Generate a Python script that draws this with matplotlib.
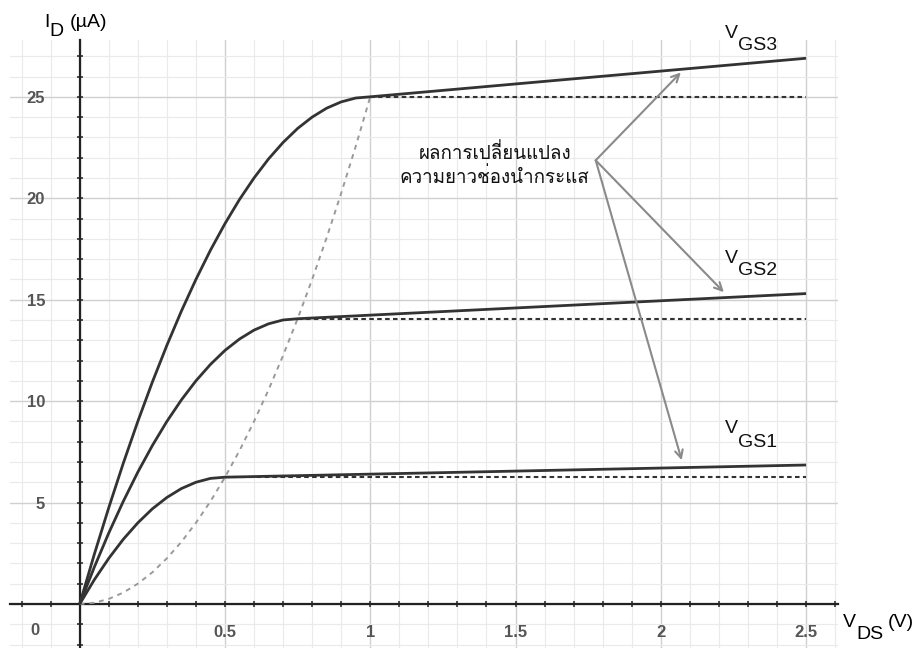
import numpy as np
import matplotlib
matplotlib.use('Agg')
import matplotlib.pyplot as plt
from matplotlib import font_manager
from matplotlib.ft2font import FT2Font
from matplotlib.ticker import FuncFormatter

# drain voltage points in the triode region (V) and read-off currents (uA)
vds_1 = [0, 0.05, 0.1, 0.15, 0.2, 0.25, 0.3, 0.35, 0.4, 0.45, 0.5, 2.5]
id_1 = [0, 1.19, 2.25, 3.19, 4.0, 4.69, 5.25, 5.69, 6.0, 6.19, 6.25, 6.85]

vds_2 = [0, 0.05, 0.1, 0.15, 0.2, 0.25, 0.3, 0.35, 0.4, 0.45, 0.5, 0.55, 0.6, 0.65, 0.7, 0.75, 2.5]
id_2 = [0, 1.81, 3.5, 5.06, 6.5, 7.81, 9.0, 10.06, 11.0, 11.81, 12.5, 13.06, 13.5, 13.81, 14.0, 14.06, 15.3]

vds_3 = [0, 0.05, 0.1, 0.15, 0.2, 0.25, 0.3, 0.35, 0.4, 0.45, 0.5, 0.55, 0.6, 0.65, 0.7,
         0.75, 0.8, 0.85, 0.9, 0.95, 1.0, 2.5]
id_3 = [0, 2.44, 4.75, 6.94, 9.0, 10.94, 12.75, 14.44, 16.0, 17.44, 18.75, 19.94, 21.0, 21.94,
        22.75, 23.44, 24.0, 24.44, 24.75, 24.94, 25.0, 26.9]

# edge of saturation (gray dashed parabola)
vds_sat = [0, 0.05, 0.1, 0.15, 0.2, 0.25, 0.3, 0.35, 0.4, 0.45, 0.5, 0.55, 0.6, 0.65, 0.7,
           0.75, 0.8, 0.85, 0.9, 0.95, 1.0]
id_sat = [0, 0.06, 0.25, 0.56, 1.0, 1.56, 2.25, 3.06, 4.0, 5.06, 6.25, 7.56, 9.0, 10.56,
          12.25, 14.06, 16.0, 18.06, 20.25, 22.56, 25.0]

# flat (no channel-length modulation) lines
flat_start = [0.5, 0.75, 1.0]
flat_level = [6.25, 14.06, 25.0]
flat_end = 2.5

# curve labels: main letter, subscript, (x, baseline y) of each
curve_main = ['V', 'V', 'V']
curve_sub = ['GS1', 'GS2', 'GS3']
main_pos = [(2.22, 8.42), (2.22, 16.8), (2.22, 27.88)]
sub_pos = [(2.266, 7.73), (2.266, 16.2), (2.266, 27.29)]

note_text = 'ผลการเปลี่ยนแปลง\nความยาวช่องนำกระแส'
note_pos = (1.428, 21.63)
arrow_from = (1.776, 21.87)
arrow_to = [(2.072, 7.09), (2.217, 15.37), (2.069, 26.2)]

x_ticks = [0.5, 1, 1.5, 2, 2.5]
y_ticks = [5, 10, 15, 20, 25]


def thai_font():
    for f in font_manager.fontManager.ttflist:
        try:
            if 0x0E01 in FT2Font(f.fname).get_charmap():
                return f.name
        except Exception:
            pass
    return 'DejaVu Sans'


thai = thai_font()
plt.rcParams['font.family'] = ['Liberation Sans', 'DejaVu Sans']

fig = plt.figure(figsize=(9.21, 6.48), dpi=100)
ax = fig.add_axes([10/921, 0, 828/921, 608/648])
ax.set_xlim(-0.24, 2.61)
ax.set_ylim(-2.17, 27.8)

# grid
for x in np.arange(-0.2, 2.61, 0.1):
    major = abs(x*2 - round(x*2)) < 1e-6
    ax.axvline(x, color='#d0d0d0' if major else '#eaeaea', lw=1.0 if major else 0.8, zorder=0)
for y in np.arange(-2, 28, 1):
    major = y % 5 == 0
    ax.axhline(y, color='#d0d0d0' if major else '#eaeaea', lw=1.0 if major else 0.8, zorder=0)

for s in ['top', 'right']:
    ax.spines[s].set_visible(False)
for s in ['left', 'bottom']:
    ax.spines[s].set_position(('data', 0))
    ax.spines[s].set_color('#222222')
    ax.spines[s].set_linewidth(1.6)

ax.set_xticks(x_ticks)
ax.set_xticks(np.arange(-0.2, 2.61, 0.1), minor=True)
ax.set_yticks(y_ticks)
ax.set_yticks(np.arange(-2, 28, 1), minor=True)
ax.xaxis.set_major_formatter(FuncFormatter(lambda v, p: '%g' % v))
ax.tick_params(which='both', direction='inout', length=4, width=1.2, color='#333333')
ax.tick_params(axis='x', pad=13, labelsize=12, labelcolor='#555555')
ax.tick_params(axis='y', pad=23, labelsize=12, labelcolor='#555555')
for lab in ax.get_xticklabels() + ax.get_yticklabels():
    lab.set_fontweight('bold')
ax.text(-0.155, -1.3, '0', ha='center', va='center', fontsize=12, color='#555555',
        fontweight='bold')

# curves
for vx, iy in [(vds_1, id_1), (vds_2, id_2), (vds_3, id_3)]:
    ax.plot(vx, iy, color='#333333', lw=2.0, zorder=4, solid_capstyle='butt')
for x0, lvl in zip(flat_start, flat_level):
    ax.plot([x0, flat_end], [lvl, lvl], color='#333333', lw=1.5, dashes=(2.2, 1.6), zorder=3)
ax.plot(vds_sat, id_sat, color='#9a9a9a', lw=1.4, dashes=(2.5, 2.5), zorder=3)

for m, sb, mp, sp in zip(curve_main, curve_sub, main_pos, sub_pos):
    ax.text(mp[0], mp[1], m, fontsize=14, ha='left', va='baseline', color='#111111')
    ax.text(sp[0], sp[1], sb, fontsize=14, ha='left', va='baseline', color='#111111')

ax.text(note_pos[0], note_pos[1], note_text, ha='center', va='center', fontsize=13.5,
        linespacing=1.25, family=[thai, 'DejaVu Sans'], color='#111111', zorder=5)
for tx, ty in arrow_to:
    ax.annotate('', xy=(tx, ty), xytext=arrow_from,
                arrowprops=dict(arrowstyle='->', color='#8a8a8a', lw=1.5,
                                mutation_scale=14, shrinkA=0, shrinkB=0), zorder=5)

# axis titles
ax.text(-0.121, 28.42, 'I', fontsize=14, va='baseline', clip_on=False)
ax.text(-0.104, 28.0, 'D', fontsize=14, va='baseline', clip_on=False)
ax.text(-0.034, 28.42, '(µA)', fontsize=14, va='baseline', clip_on=False)
ax.text(2.628, -1.13, 'V', fontsize=14, va='baseline', clip_on=False)
ax.text(2.674, -1.72, 'DS', fontsize=14, va='baseline', clip_on=False)
ax.text(2.78, -1.13, '(V)', fontsize=14, va='baseline', clip_on=False)

fig.savefig('out.png', dpi=100)
